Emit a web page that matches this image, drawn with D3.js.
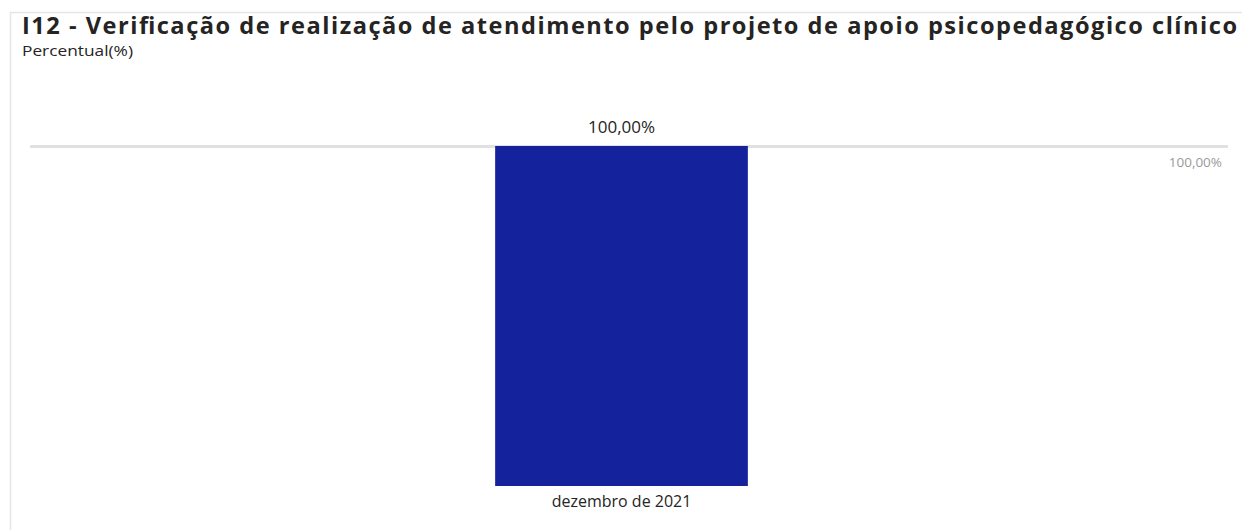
<!DOCTYPE html>
<html>
<head>
<meta charset="utf-8">
<script src="https://cdn.jsdelivr.net/npm/d3@7"></script>
<style>
  body { margin: 0; background: #fff; }
  svg { display: block; font-family: "Open Sans", "Noto Sans", sans-serif; }
</style>
</head>
<body>
<div id="chart"></div>
<script>
// data
const categories = ["dezembro de 2021"];
const values = [1.0];
const yTicks = [1.0];

const width = 1242, height = 530;
const fmt = v => d3.format(".2f")(v * 100).replace(".", ",") + "%";

const svg = d3.select("#chart")
  .append("svg")
    .attr("width", width)
    .attr("height", height);

// frame
svg.append("path")
  .attr("d", `M10.5,${height} V12.5 H${width}`)
  .attr("fill", "none")
  .attr("stroke", "#e6e6e6")
  .attr("stroke-width", 1.5);

// title: size it so it spans the same width as in the reference
const title = svg.append("text")
  .attr("x", 22)
  .attr("y", 34)
  .style("font-size", "22px")
  .style("font-weight", "bold")
  .attr("fill", "#252423")
  .text("I12 - Verificação de realização de atendimento pelo projeto de apoio psicopedagógico clínico");
const tw = title.node().getComputedTextLength();
title.style("font-size", Math.min(23.6, 22 * 1215 / tw) + "px")
  .attr("textLength", 1215)
  .attr("lengthAdjust", "spacing");

svg.append("text")
  .attr("x", 22)
  .attr("y", 56)
  .attr("textLength", 111)
  .attr("lengthAdjust", "spacingAndGlyphs")
  .style("font-size", "15px")
  .attr("fill", "#252423")
  .text("Percentual(%)");

// scales
const x = d3.scaleBand()
  .domain(categories)
  .range([15, 1228])
  .paddingInner(0)
  .paddingOuter(1.9);

const y = d3.scaleLinear()
  .domain([0, 1])
  .range([486, 146]);

// gridline (y axis)
const yAxis = svg.append("g")
  .attr("transform", "translate(1228,0)")
  .call(d3.axisLeft(y).tickValues(yTicks).tickSize(1198).tickFormat(""));
yAxis.select(".domain").remove();
yAxis.selectAll(".tick line")
  .attr("stroke", "#e1e1e1")
  .attr("stroke-width", 3);

// right-side tick label
svg.selectAll(".ylab")
  .data(yTicks)
  .enter()
  .append("text")
    .attr("class", "ylab")
    .attr("x", 1222)
    .attr("y", d => y(d) + 21)
    .attr("text-anchor", "end")
    .style("font-size", "13.5px")
    .attr("fill", "#9a9a9a")
    .text(fmt);

// bars
svg.selectAll("rect.bar")
  .data(values)
  .enter()
  .append("rect")
    .attr("class", "bar")
    .attr("x", (d, i) => x(categories[i]))
    .attr("y", d => y(d))
    .attr("width", x.bandwidth())
    .attr("height", d => y(0) - y(d))
    .attr("fill", "#14239c");

// data labels
svg.selectAll(".dlab")
  .data(values)
  .enter()
  .append("text")
    .attr("class", "dlab")
    .attr("x", (d, i) => x(categories[i]) + x.bandwidth() / 2)
    .attr("y", d => y(d) - 13)
    .attr("text-anchor", "middle")
    .style("font-size", "17px")
    .attr("fill", "#252423")
    .text(fmt);

// x axis
const xAxis = svg.append("g")
  .attr("transform", `translate(0,${y(0)})`)
  .call(d3.axisBottom(x).tickSize(0).tickPadding(10));
xAxis.select(".domain").remove();
xAxis.selectAll("text")
  .style("font-size", "16px")
  .style("font-family", "\"Open Sans\", \"Noto Sans\", sans-serif")
  .attr("fill", "#252423");
</script>
</body>
</html>
